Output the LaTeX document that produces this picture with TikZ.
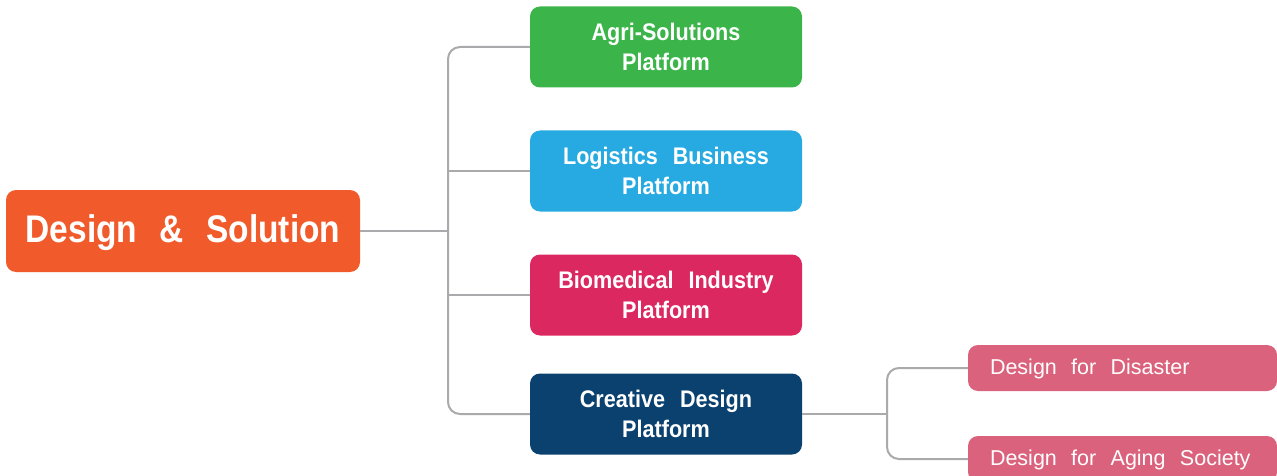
\documentclass[tikz,border=0pt]{standalone}
\usepackage{fontspec}
\setmainfont{Liberation Sans}
\newfontfamily\subfont{Liberation Sans}[WordSpace=2.4]
\newfontfamily\platfont{Liberation Sans}[FakeStretch=0.9,WordSpace=2.5]
\newfontfamily\mainfont{Liberation Sans}[FakeStretch=0.87,WordSpace=2.4]
\definecolor{mainor}{HTML}{F15A2B}
\definecolor{agrig}{HTML}{3BB54A}
\definecolor{logb}{HTML}{27AAE1}
\definecolor{biom}{HTML}{DC2860}
\definecolor{creat}{HTML}{0B416E}
\definecolor{subp}{HTML}{DB627C}
\definecolor{conng}{HTML}{AAAAAD}
\tikzset{
  x=1pt,y=-1pt,
  box/.style={rectangle,rounded corners=10pt,text=white,inner sep=0pt,align=center},
  plat/.style={box,minimum width=272pt,minimum height=81pt,font=\platfont\fontsize{24}{30}\selectfont\bfseries},
  subbox/.style={box,minimum width=309pt,minimum height=46pt,font=\subfont\fontsize{21.5}{26}\selectfont},
  conn/.style={draw=conng,line width=2pt}
}
\begin{document}
\begin{tikzpicture}
\useasboundingbox (0,0) rectangle (1277,476);
\node[box,fill=mainor,minimum width=354pt,minimum height=82pt] (main) at (183,231) {};
\node[font=\mainfont\fontsize{38.5}{40}\selectfont\bfseries,text=white,inner sep=0pt] (maintext) at ([yshift=-2pt]main.center) {Design \& Solution};
\node[plat,fill=agrig] (agri) at (666,47) {Agri-Solutions\\Platform};
\node[plat,fill=logb] (log) at (666,171) {Logistics Business\\Platform};
\node[plat,fill=biom] (bio) at (666,295) {Biomedical Industry\\Platform};
\node[plat,fill=creat] (cre) at (666,414) {Creative Design\\Platform};
\node[subbox,fill=subp] (dis) at (1122.5,368) {};
\node[subbox,fill=subp] (age) at (1122.5,459) {};
\node[font=\subfont\fontsize{21.5}{26}\selectfont,text=white,inner sep=0pt,anchor=west] (distext) at ([xshift=22pt,yshift=-1pt]dis.west) {Design for Disaster};
\node[font=\subfont\fontsize{21.5}{26}\selectfont,text=white,inner sep=0pt,anchor=west] (agetext) at ([xshift=22pt,yshift=-1pt]age.west) {Design for Aging Society};
\coordinate (trunk) at (448,231);
\coordinate (subt) at (887,414);
\draw[conn] (main.east) -- (trunk);
\draw[conn,rounded corners=12pt] (agri.west) -| (trunk) |- (cre.west);
\draw[conn] (log.west) -- (log.west -| trunk);
\draw[conn] (bio.west) -- (bio.west -| trunk);
\draw[conn] (cre.east) -- (subt);
\draw[conn,rounded corners=12pt] (dis.west) -| (subt) |- (age.west);
\end{tikzpicture}
\end{document}
